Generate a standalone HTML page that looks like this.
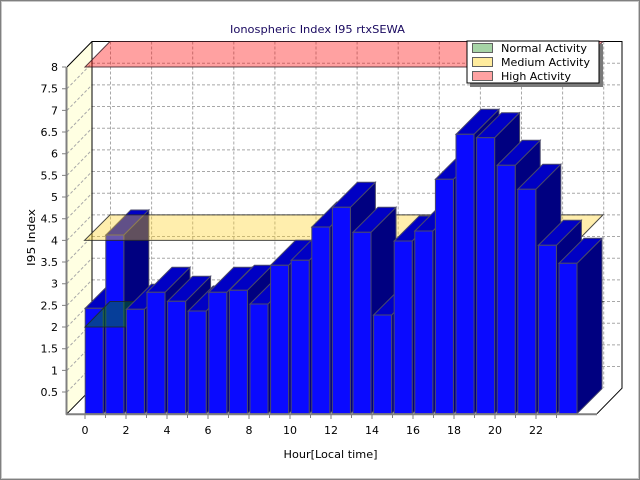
<!DOCTYPE html>
<html><head><meta charset="utf-8"><style>
html,body{margin:0;padding:0;background:#fff;}
svg{display:block;}
text{font-family:"DejaVu Sans","Liberation Sans",sans-serif;font-size:11px;fill:#000;}
.s{fill:#000080;stroke:#4a4a6a;stroke-width:1;}
.t{fill:#0000c4;stroke:#4a4a6a;stroke-width:1;}
.f{fill:#0a0aff;stroke:#4a4a6a;stroke-width:1;}
.g{stroke:#a8a8a8;stroke-width:1;stroke-dasharray:3,2;fill:none;}
</style></head><body>
<svg width="640" height="480" viewBox="0 0 640 480" xmlns="http://www.w3.org/2000/svg">
<rect x="0" y="0" width="640" height="480" fill="#fff"/>
<rect x="0.5" y="0.5" width="639" height="479" fill="none" stroke="#808080" stroke-width="1"/>
<rect x="1.5" y="1.5" width="637" height="477" fill="none" stroke="#c8c8c8" stroke-width="1"/>

<text x="230" y="33" textLength="175" lengthAdjust="spacingAndGlyphs" style="fill:#1a0a60">Ionospheric Index I95 rtxSEWA</text>

<!-- back wall -->
<rect x="92" y="41.5" width="530" height="346.7" fill="#fff"/>
<g class="g">
<path d="M92 366.5H622M92 344.9H622M92 323.2H622M92 301.5H622M92 279.9H622M92 258.2H622M92 236.5H622M92 214.9H622M92 193.2H622M92 171.5H622M92 149.9H622M92 128.2H622M92 106.5H622M92 84.9H622M92 63.2H622"/>
<path d="M110.5 41.5V388.2M151.6 41.5V388.2M192.7 41.5V388.2M233.8 41.5V388.2M274.9 41.5V388.2M316 41.5V388.2M357.1 41.5V388.2M398.2 41.5V388.2M439.3 41.5V388.2M480.4 41.5V388.2M521.5 41.5V388.2M562.6 41.5V388.2M603.7 41.5V388.2"/>
</g>
<!-- left wall -->
<polygon points="67,67 92,41.5 92,388.2 67,413.7" fill="#ffffe2"/>
<g class="g">
<path d="M67 392L92 366.5M67 370.4L92 344.9M67 348.7L92 323.2M67 327L92 301.5M67 305.4L92 279.9M67 283.7L92 258.2M67 262L92 236.5M67 240.4L92 214.9M67 218.7L92 193.2M67 197L92 171.5M67 175.4L92 149.9M67 153.7L92 128.2M67 132L92 106.5M67 110.4L92 84.9M67 88.7L92 63.2"/>
</g>
<!-- floor -->
<polygon points="67,413.7 92,388.2 622,388.2 597,413.7" fill="#fff"/>
<path d="M67 67L92 41.5H622V388.2L597 413.7M92 41.5V388.2M67 413.7L92 388.2" fill="none" stroke="#000" stroke-width="1"/>

<!-- bars 0,1 -->
<g transform="translate(85.2 0)"><polygon class="s" points="18,413.7 18,308.3 43,283.3 43,388.7"/><polygon class="t" points="0,308.3 18,308.3 43,283.3 25,283.3"/><rect class="f" x="0" y="308.3" width="18" height="105.4"/></g>
<g transform="translate(105.8 0)"><polygon class="s" points="18,413.7 18,235 43,210 43,388.7"/><polygon class="t" points="0,235 18,235 43,210 25,210"/><rect class="f" x="0" y="235" width="18" height="178.7"/></g>

<!-- planes -->
<polygon points="85,327 578,327 603,301.5 110,301.5" fill="rgba(0,140,0,0.4)" stroke="rgba(30,40,30,0.8)" stroke-width="1"/>
<polygon points="84.5,240.4 578,240.4 603,214.9 110,214.9" fill="rgba(255,210,40,0.38)" stroke="rgba(40,40,40,0.85)" stroke-width="1"/>
<polygon points="85,67 578,67 603,41.5 110,41.5" fill="rgba(255,0,0,0.37)" stroke="rgba(60,30,40,0.85)" stroke-width="1"/>

<!-- bars 2..23 -->
<g transform="translate(126.4 0)"><polygon class="s" points="18,413.7 18,309.3 43,284.3 43,388.7"/><polygon class="t" points="0,309.3 18,309.3 43,284.3 25,284.3"/><rect class="f" x="0" y="309.3" width="18" height="104.4"/></g>
<g transform="translate(147 0)"><polygon class="s" points="18,413.7 18,292.3 43,267.3 43,388.7"/><polygon class="t" points="0,292.3 18,292.3 43,267.3 25,267.3"/><rect class="f" x="0" y="292.3" width="18" height="121.4"/></g>
<g transform="translate(167.6 0)"><polygon class="s" points="18,413.7 18,301.3 43,276.3 43,388.7"/><polygon class="t" points="0,301.3 18,301.3 43,276.3 25,276.3"/><rect class="f" x="0" y="301.3" width="18" height="112.4"/></g>
<g transform="translate(188.2 0)"><polygon class="s" points="18,413.7 18,311 43,286 43,388.7"/><polygon class="t" points="0,311 18,311 43,286 25,286"/><rect class="f" x="0" y="311" width="18" height="102.7"/></g>
<g transform="translate(208.8 0)"><polygon class="s" points="18,413.7 18,292.3 43,267.3 43,388.7"/><polygon class="t" points="0,292.3 18,292.3 43,267.3 25,267.3"/><rect class="f" x="0" y="292.3" width="18" height="121.4"/></g>
<g transform="translate(229.4 0)"><polygon class="s" points="18,413.7 18,290.3 43,265.3 43,388.7"/><polygon class="t" points="0,290.3 18,290.3 43,265.3 25,265.3"/><rect class="f" x="0" y="290.3" width="18" height="123.4"/></g>
<g transform="translate(250 0)"><polygon class="s" points="18,413.7 18,304 43,279 43,388.7"/><polygon class="t" points="0,304 18,304 43,279 25,279"/><rect class="f" x="0" y="304" width="18" height="109.7"/></g>
<g transform="translate(270.6 0)"><polygon class="s" points="18,413.7 18,265.3 43,240.3 43,388.7"/><polygon class="t" points="0,265.3 18,265.3 43,240.3 25,240.3"/><rect class="f" x="0" y="265.3" width="18" height="148.4"/></g>
<g transform="translate(291.2 0)"><polygon class="s" points="18,413.7 18,260.3 43,235.3 43,388.7"/><polygon class="t" points="0,260.3 18,260.3 43,235.3 25,235.3"/><rect class="f" x="0" y="260.3" width="18" height="153.4"/></g>
<g transform="translate(311.8 0)"><polygon class="s" points="18,413.7 18,227 43,202 43,388.7"/><polygon class="t" points="0,227 18,227 43,202 25,202"/><rect class="f" x="0" y="227" width="18" height="186.7"/></g>
<g transform="translate(332.4 0)"><polygon class="s" points="18,413.7 18,207.3 43,182.3 43,388.7"/><polygon class="t" points="0,207.3 18,207.3 43,182.3 25,182.3"/><rect class="f" x="0" y="207.3" width="18" height="206.4"/></g>
<g transform="translate(353 0)"><polygon class="s" points="18,413.7 18,232.3 43,207.3 43,388.7"/><polygon class="t" points="0,232.3 18,232.3 43,207.3 25,207.3"/><rect class="f" x="0" y="232.3" width="18" height="181.4"/></g>
<g transform="translate(373.6 0)"><polygon class="s" points="18,413.7 18,315 43,290 43,388.7"/><polygon class="t" points="0,315 18,315 43,290 25,290"/><rect class="f" x="0" y="315" width="18" height="98.7"/></g>
<g transform="translate(394.2 0)"><polygon class="s" points="18,413.7 18,241 43,216 43,388.7"/><polygon class="t" points="0,241 18,241 43,216 25,216"/><rect class="f" x="0" y="241" width="18" height="172.7"/></g>
<g transform="translate(414.8 0)"><polygon class="s" points="18,413.7 18,231 43,206 43,388.7"/><polygon class="t" points="0,231 18,231 43,206 25,206"/><rect class="f" x="0" y="231" width="18" height="182.7"/></g>
<g transform="translate(435.4 0)"><polygon class="s" points="18,413.7 18,179.3 43,154.3 43,388.7"/><polygon class="t" points="0,179.3 18,179.3 43,154.3 25,154.3"/><rect class="f" x="0" y="179.3" width="18" height="234.4"/></g>
<g transform="translate(456 0)"><polygon class="s" points="18,413.7 18,134.3 43,109.3 43,388.7"/><polygon class="t" points="0,134.3 18,134.3 43,109.3 25,109.3"/><rect class="f" x="0" y="134.3" width="18" height="279.4"/></g>
<g transform="translate(476.6 0)"><polygon class="s" points="18,413.7 18,137.7 43,112.7 43,388.7"/><polygon class="t" points="0,137.7 18,137.7 43,112.7 25,112.7"/><rect class="f" x="0" y="137.7" width="18" height="276"/></g>
<g transform="translate(497.2 0)"><polygon class="s" points="18,413.7 18,165.3 43,140.3 43,388.7"/><polygon class="t" points="0,165.3 18,165.3 43,140.3 25,140.3"/><rect class="f" x="0" y="165.3" width="18" height="248.4"/></g>
<g transform="translate(517.8 0)"><polygon class="s" points="18,413.7 18,189.3 43,164.3 43,388.7"/><polygon class="t" points="0,189.3 18,189.3 43,164.3 25,164.3"/><rect class="f" x="0" y="189.3" width="18" height="224.4"/></g>
<g transform="translate(538.4 0)"><polygon class="s" points="18,413.7 18,245.3 43,220.3 43,388.7"/><polygon class="t" points="0,245.3 18,245.3 43,220.3 25,220.3"/><rect class="f" x="0" y="245.3" width="18" height="168.4"/></g>
<g transform="translate(559 0)"><polygon class="s" points="18,413.7 18,263.3 43,238.3 43,388.7"/><polygon class="t" points="0,263.3 18,263.3 43,238.3 25,238.3"/><rect class="f" x="0" y="263.3" width="18" height="150.4"/></g>

<!-- axes -->
<path d="M66.5 67V414.7M66 414.2H597" stroke="#808080" stroke-width="2" fill="none"/>
<path d="M62 392H66M62 370.4H66M62 348.7H66M62 327H66M62 305.4H66M62 283.7H66M62 262H66M62 240.4H66M62 218.7H66M62 197H66M62 175.4H66M62 153.7H66M62 132H66M62 110.4H66M62 88.7H66M62 67H66" stroke="#808080" stroke-width="1"/>
<path d="M85 415V419M105.5 415V418M126 415V419M146.5 415V418M167 415V419M187.5 415V418M208 415V419M228.5 415V418M249 415V419M269.5 415V418M290 415V419M310.5 415V418M331 415V419M351.5 415V418M372 415V419M392.5 415V418M413 415V419M433.5 415V418M454 415V419M474.5 415V418M495 415V419M515.5 415V418M536 415V419M556.5 415V418" stroke="#808080" stroke-width="1"/>

<g text-anchor="end">
<text x="58" y="396">0.5</text><text x="58" y="374.4">1</text><text x="58" y="352.7">1.5</text><text x="58" y="331">2</text><text x="58" y="309.4">2.5</text><text x="58" y="287.7">3</text><text x="58" y="266">3.5</text><text x="58" y="244.4">4</text><text x="58" y="222.7">4.5</text><text x="58" y="201">5</text><text x="58" y="179.4">5.5</text><text x="58" y="157.7">6</text><text x="58" y="136">6.5</text><text x="58" y="114.4">7</text><text x="58" y="92.7">7.5</text><text x="58" y="71">8</text>
</g>
<g text-anchor="middle">
<text x="85" y="434">0</text><text x="126" y="434">2</text><text x="167" y="434">4</text><text x="208" y="434">6</text><text x="249" y="434">8</text><text x="290" y="434">10</text><text x="331" y="434">12</text><text x="372" y="434">14</text><text x="413" y="434">16</text><text x="454" y="434">18</text><text x="495" y="434">20</text><text x="536" y="434">22</text>
</g>
<text x="283.5" y="458" textLength="94" lengthAdjust="spacingAndGlyphs">Hour[Local time]</text>
<text transform="translate(35 266) rotate(-90)" x="0" y="0" textLength="57" lengthAdjust="spacingAndGlyphs">I95 Index</text>

<!-- legend -->
<rect x="470" y="44" width="133" height="43" fill="#7a7a7a"/>
<rect x="467" y="41" width="132" height="42" fill="#fff" stroke="#000" stroke-width="1"/>
<rect x="472.5" y="43.5" width="20" height="9" fill="#a6d4a6" stroke="#606060" stroke-width="1"/>
<rect x="472.5" y="57.5" width="20" height="9" fill="#ffec9e" stroke="#606060" stroke-width="1"/>
<rect x="472.5" y="71.5" width="20" height="9" fill="#ffa2a2" stroke="#606060" stroke-width="1"/>
<text x="501" y="52" textLength="86" lengthAdjust="spacingAndGlyphs">Normal Activity</text>
<text x="501" y="66" textLength="89" lengthAdjust="spacingAndGlyphs">Medium Activity</text>
<text x="501" y="80" textLength="70" lengthAdjust="spacingAndGlyphs">High Activity</text>
</svg>
</body></html>
